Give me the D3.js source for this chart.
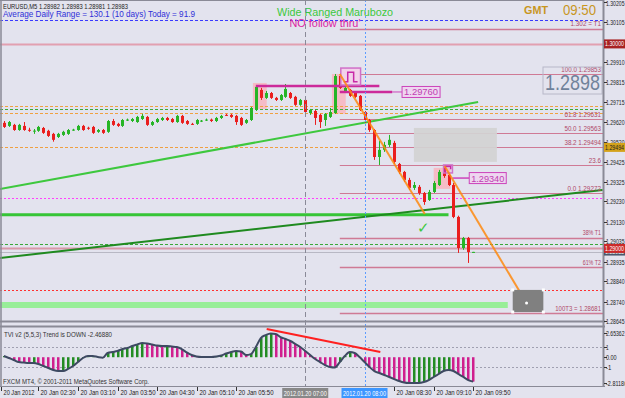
<!DOCTYPE html>
<html>
<head>
<meta charset="utf-8">
<script src="https://cdnjs.cloudflare.com/ajax/libs/d3/7.8.5/d3.min.js"></script>
<style>
body { margin: 0; background: #e3e3ee; }
svg { display: block; font-family: "Liberation Sans", Arial, sans-serif; }
</style>
</head>
<body>
<div id="chart"></div>
<script>
// EURUSD M5 bars from 01:55 to 09:50, [open, high, low, close]
const firstBar = "01:55";
const candles = [
  [1.29614,1.29623,1.29589,1.29594],[1.29599,1.29623,1.29594,1.29618],[1.29604,1.29609,1.29575,1.29579],
  [1.29579,1.29609,1.29575,1.29604],[1.29599,1.29618,1.29575,1.29579],[1.29580,1.29590,1.29570,1.29578],
  [1.29572,1.29584,1.29560,1.29576],[1.29575,1.29599,1.29570,1.29594],[1.29589,1.29594,1.29560,1.29565],
  [1.29575,1.29580,1.29545,1.29550],[1.29560,1.29565,1.29522,1.29531],[1.29545,1.29565,1.29540,1.29560],
  [1.29555,1.29575,1.29550,1.29570],[1.29560,1.29584,1.29555,1.29579],[1.29579,1.29585,1.29575,1.29581],
  [1.29579,1.29604,1.29575,1.29599],[1.29599,1.29604,1.29575,1.29579],[1.29590,1.29595,1.29580,1.29588],
  [1.29594,1.29599,1.29560,1.29565],[1.29570,1.29584,1.29565,1.29579],[1.29579,1.29584,1.29560,1.29565],
  [1.29570,1.29628,1.29565,1.29623],[1.29623,1.29633,1.29599,1.29604],[1.29609,1.29614,1.29594,1.29599],
  [1.29599,1.29633,1.29594,1.29628],[1.29628,1.29635,1.29623,1.29630],[1.29623,1.29638,1.29618,1.29633],
  [1.29618,1.29648,1.29614,1.29643],[1.29633,1.29658,1.29628,1.29648],[1.29643,1.29648,1.29599,1.29604],
  [1.29604,1.29623,1.29599,1.29618],[1.29618,1.29638,1.29614,1.29633],[1.29628,1.29643,1.29623,1.29638],
  [1.29638,1.29643,1.29623,1.29628],[1.29633,1.29638,1.29614,1.29618],[1.29618,1.29653,1.29614,1.29648],
  [1.29648,1.29653,1.29609,1.29614],[1.29623,1.29628,1.29604,1.29609],[1.29609,1.29614,1.29604,1.29607],
  [1.29609,1.29633,1.29604,1.29628],[1.29623,1.29628,1.29618,1.29625],[1.29628,1.29635,1.29623,1.29630],
  [1.29630,1.29635,1.29618,1.29623],[1.29623,1.29643,1.29618,1.29638],[1.29638,1.29653,1.29633,1.29648],
  [1.29653,1.29658,1.29648,1.29651],[1.29653,1.29658,1.29638,1.29643],[1.29648,1.29653,1.29604,1.29618],
  [1.29638,1.29643,1.29599,1.29604],[1.29614,1.29633,1.29609,1.29628],[1.29628,1.29692,1.29623,1.29687],
  [1.29677,1.29795,1.29672,1.29790],[1.29775,1.29785,1.29726,1.29736],[1.29736,1.29770,1.29731,1.29760],
  [1.29760,1.29765,1.29731,1.29736],[1.29736,1.29741,1.29721,1.29726],[1.29726,1.29755,1.29721,1.29750],
  [1.29741,1.29804,1.29736,1.29780],[1.29760,1.29765,1.29731,1.29736],[1.29741,1.29746,1.29697,1.29702],
  [1.29702,1.29731,1.29697,1.29726],[1.29726,1.29731,1.29662,1.29667],[1.29662,1.29682,1.29653,1.29677],
  [1.29672,1.29677,1.29604,1.29638],[1.29653,1.29658,1.29589,1.29618],[1.29628,1.29662,1.29599,1.29658],
  [1.29643,1.29687,1.29638,1.29667],[1.29662,1.29853,1.29658,1.29843],[1.29843,1.29858,1.29780,1.29785],
  [1.29765,1.29795,1.29760,1.29785],[1.29775,1.29780,1.29741,1.29746],[1.29760,1.29765,1.29736,1.29741],
  [1.29746,1.29750,1.29672,1.29677],[1.29667,1.29672,1.29614,1.29628],[1.29628,1.29633,1.29570,1.29579],
  [1.29579,1.29584,1.29433,1.29447],[1.29447,1.29526,1.29408,1.29482],[1.29482,1.29521,1.29472,1.29506],
  [1.29506,1.29555,1.29496,1.29531],[1.29516,1.29526,1.29413,1.29423],[1.29413,1.29418,1.29364,1.29374],
  [1.29374,1.29379,1.29325,1.29335],[1.29335,1.29345,1.29286,1.29296],[1.29296,1.29325,1.29286,1.29310],
  [1.29301,1.29310,1.29262,1.29271],[1.29271,1.29276,1.29213,1.29227],[1.29237,1.29286,1.29232,1.29276],
  [1.29276,1.29330,1.29271,1.29320],[1.29310,1.29384,1.29305,1.29374],[1.29384,1.29394,1.29345,1.29354],
  [1.29359,1.29364,1.29305,1.29310],[1.29310,1.29320,1.29148,1.29154],[1.29154,1.29160,1.28978,1.29002],
  [1.29002,1.29056,1.28993,1.29051],[1.29051,1.29056,1.28929,1.28982],[1.28982,1.28983,1.28981,1.28983]
];

// TVI v2 indicator, one value per bar
const tvi = [
  0.12,-0.08,-0.28,-0.49,-0.54,-0.59,-0.59,-0.69,-0.89,-1.09,-1.30,-1.40,-1.40,-1.19,-0.89,-0.49,
  -0.08,0.12,0.12,0.02,-0.05,0.43,0.53,0.63,0.83,0.93,1.13,1.29,1.44,1.39,1.29,1.18,
  1.13,1.13,1.08,1.03,0.83,0.48,0.22,0.07,0.02,0.02,0.02,0.07,0.17,0.37,0.53,0.63,
  0.58,0.22,0.32,1.03,1.94,2.24,2.40,2.35,2.04,1.84,1.64,1.34,1.03,0.63,0.22,-0.18,
  -0.49,-0.79,-0.99,-1.04,-0.49,0.12,0.53,0.43,0.02,-0.49,-0.99,-1.40,-1.60,-1.80,-2.00,-2.21,
  -2.41,-2.56,-2.61,-2.61,-2.61,-2.51,-2.31,-2.00,-1.70,-1.40,-1.30,-1.40,-1.70,-2.00,-2.31,-2.47
];

const priceTicks = [1.30205,1.30105,1.29910,1.29815,1.29715,1.29620,1.29520,1.29425,1.29325,
                    1.29230,1.29130,1.29035,1.28935,1.28840,1.28740,1.28645];
const timeTicks = ["01:51","02:30","03:10","03:50","04:30","05:10","05:50","08:30","09:10","09:50"];
const timeLabels = ["20 Jan 2012","20 Jan 02:30","20 Jan 03:10","20 Jan 03:50","20 Jan 04:30",
                    "20 Jan 05:10","20 Jan 05:50","20 Jan 08:30","20 Jan 09:10","20 Jan 09:50"];
const tviTicks = [2.65362, 1, 0, -1, -2.81186];
const tviTickLabels = ["2.65362","1","0.00","-1","-2.81186"];

const fibNames = ["100.0 1.29853","61.8 1.29631","50.0 1.29563","38.2 1.29494","23.6","0.0 1.29272"];
const fibPrices = [1.29853,1.29631,1.29563,1.29494,1.29409,1.29272];
const targetNames = ["1.302 = T1","38% T1","61% T2","100T3 = 1.28681"];
const targetPrices = [1.30073,1.29051,1.28909,1.28684];
const orangeDashLevels = [1.29696,1.29662,1.29496];
const greenDashLevels = [1.29682,1.29022];
const adrLevel = 1.30117;
const roundLevels = [1.30000, 1.29000];
const bid = 1.28983;
const magentaDotLevel = 1.29247;
const redDotLevel = 1.28797;
const supportLine = [["01:51",1.29164],["09:25",1.29164]];
const targetBand = [["01:51",1.28723],["10:25",1.28723]];
const lightTrend = [["01:51",1.29291],["09:55",1.29716]];
const darkTrend = [["01:51",1.28953],["12:01",1.29286]];
const projections = [[["07:35",1.29853],["09:01",1.29168]], [["09:21",1.29403],["10:44",1.28733]]];
const highLines = [[["06:10",1.29794],["08:15",1.29794]], [["07:35",1.29765],["08:28",1.29765]]];
const pinkZones = [["06:07","06:21",1.29809,1.29682],["07:27","07:41",1.29853,1.29658],["09:10","09:27",1.29394,1.29291]];
const greyZone = ["08:50","10:14",1.29589,1.29423];
const targetBox = ["10:30","11:01",1.28797,1.28689];
const tviTrend = [["06:21",2.85],["08:16",0.53]];

const W = 625, H = 398, plotRight = 603;
const parseT = s => new Date(Date.UTC(2012, 0, 20, +s.slice(0, 2), +s.slice(3)));
const barTime = i => new Date(parseT(firstBar).getTime() + i * 300000);

const x = d3.scaleUtc().domain([parseT("01:55"), parseT("09:50")]).range([3.9, 473.2]);
const y = d3.scaleLinear().domain([1.28645, 1.30205]).range([321, 2]);
const yi = d3.scaleLinear().domain([-2.81186, 2.65362]).range([385, 331]);

const svg = d3.select("#chart").append("svg").attr("width", W).attr("height", H);
svg.append("rect").attr("width", W).attr("height", H).attr("fill", "#e3e3ee");

const defs = svg.append("defs");
defs.append("clipPath").attr("id", "mainClip").append("rect")
    .attr("x", 0).attr("y", 0).attr("width", plotRight).attr("height", 321);
defs.append("clipPath").attr("id", "indClip").append("rect")
    .attr("x", 0).attr("y", 327).attr("width", plotRight).attr("height", 59);

const main = svg.append("g").attr("clip-path", "url(#mainClip)");

function text(g, tx, ty, s, size, fill, len, anchor) {
    const t = g.append("text").attr("x", tx).attr("y", ty).text(s)
        .attr("font-size", size).attr("fill", fill);
    if (len) t.attr("textLength", len).attr("lengthAdjust", "spacingAndGlyphs");
    if (anchor) t.attr("text-anchor", anchor);
    return t;
}
function hline(price, color, width, dash, x0, x1) {
    const l = main.append("line")
        .attr("x1", x0 == null ? 0 : x0).attr("x2", x1 == null ? plotRight : x1)
        .attr("y1", Math.round(y(price)) + 0.5).attr("y2", Math.round(y(price)) + 0.5)
        .attr("stroke", color).attr("stroke-width", width);
    if (dash) l.attr("stroke-dasharray", dash);
    return l;
}
function seg(g, pts, color, width, opacity) {
    return g.append("line")
        .attr("x1", x(parseT(pts[0][0]))).attr("y1", y(pts[0][1]))
        .attr("x2", x(parseT(pts[1][0]))).attr("y2", y(pts[1][1]))
        .attr("stroke", color).attr("stroke-width", width).attr("opacity", opacity || 1);
}

// zones
pinkZones.forEach(z => {
    main.append("rect").attr("x", x(parseT(z[0]))).attr("width", x(parseT(z[1])) - x(parseT(z[0])))
        .attr("y", y(z[2])).attr("height", y(z[3]) - y(z[2])).attr("fill", "#f6bcc6");
});

// horizontal levels
hline(adrLevel, "#3a3aff", 1, "3,2");
hline(roundLevels[0], "#e2a0b0", 2);
orangeDashLevels.forEach(p => hline(p, "#f0a040", 1, "3,2"));
greenDashLevels.forEach(p => hline(p, "#3aa83a", 1, "3,2"));
hline(magentaDotLevel, "#ff40ff", 1, "2,2");
hline(redDotLevel, "#ff3030", 1, "2,2");
hline(roundLevels[1], "#d898a8", 2);
hline(bid, "#b8b8c4", 1);

const fibStart = x(parseT("07:35"));
fibPrices.forEach(p => hline(p, "#cf7a95", 1, null, fibStart));
targetPrices.forEach(p => hline(p, "#cf7a95", 1.5, null, fibStart));

// grey zone
main.append("rect").attr("x", x(parseT(greyZone[0]))).attr("width", x(parseT(greyZone[1])) - x(parseT(greyZone[0])))
    .attr("y", y(greyZone[2])).attr("height", y(greyZone[3]) - y(greyZone[2]))
    .attr("fill", "#d2d2d2").attr("opacity", 0.92);

// thick green support and target band
seg(main, supportLine, "#36c536", 3);
seg(main, targetBand, "#98ee98", 6);
seg(main, lightTrend, "#3ec83e", 2);
seg(main, darkTrend, "#1f8a1f", 2);

// candles
const bars = main.append("g");
candles.forEach((c, i) => {
    const cx = Math.round(x(barTime(i))) + 0.5;
    const up = c[3] >= c[0];
    const col = up ? "#26b526" : "#ea1e1e";
    bars.append("line").attr("x1", cx).attr("x2", cx).attr("y1", y(c[1])).attr("y2", y(c[2]))
        .attr("stroke", col).attr("stroke-width", 1);
    const top = y(Math.max(c[0], c[3])), bot = y(Math.min(c[0], c[3]));
    bars.append("rect").attr("x", cx - 1.5).attr("width", 3)
        .attr("y", top).attr("height", Math.max(1, bot - top)).attr("fill", col);
});

// session high marks
highLines.forEach(h => seg(main, h, "#cc2a9a", 2.5));
const lblX = x(parseT("08:38"));
main.append("line").attr("x1", x(parseT("08:28"))).attr("x2", lblX)
    .attr("y1", y(1.29765)).attr("y2", y(1.29765)).attr("stroke", "#cc44bb").attr("stroke-width", 1);
main.append("rect").attr("x", lblX).attr("y", y(1.29765) - 5.5).attr("width", 38).attr("height", 11)
    .attr("fill", "#eed6f0").attr("stroke", "#cc44bb");
text(main, lblX + 19, y(1.29765) + 3.5, "1.29760", 9.5, "#c040b0", 34, "middle");

const l2x0 = x(parseT("09:29")), l2x1 = x(parseT("09:46"));
main.append("line").attr("x1", l2x0).attr("x2", l2x1)
    .attr("y1", y(1.29344)).attr("y2", y(1.29344)).attr("stroke", "#cc44bb").attr("stroke-width", 1.5);
main.append("rect").attr("x", l2x1).attr("y", y(1.29344) - 5.5).attr("width", 37).attr("height", 11)
    .attr("fill", "#eed6f0").attr("stroke", "#cc44bb");
text(main, l2x1 + 18.5, y(1.29344) + 3.5, "1.29340", 9.5, "#c040b0", 33, "middle");

// pulse boxes
function pulseBox(t0, t1, p0, p1, full) {
    const bx = x(parseT(t0)), bw = x(parseT(t1)) - bx, by = y(p0), bh = y(p1) - by;
    main.append("rect").attr("x", bx).attr("y", by).attr("width", bw).attr("height", bh)
        .attr("fill", full ? "#f2d2ea" : "none").attr("stroke", "#d070c8").attr("stroke-width", 1.5);
    const path = full
        ? [[0.15, 0.8], [0.35, 0.8], [0.35, 0.25], [0.65, 0.25], [0.65, 0.8], [0.85, 0.8]]
        : [[0.2, 0.9], [0.2, 0.2], [0.8, 0.2], [0.8, 0.55]];
    main.append("path").attr("d", d3.line()(path.map(p => [bx + p[0] * bw, by + p[1] * bh])))
        .attr("fill", "none").attr("stroke", "#c828a8").attr("stroke-width", 1.5);
}
pulseBox("07:36", "07:56", 1.29882, 1.29799, true);
pulseBox("09:20", "09:29", 1.29408, 1.29369, false);

// projections
projections.forEach(p => seg(main, p, "#ff8a10", 2, 0.85));

// target box
const tbx = x(parseT(targetBox[0])), tbw = x(parseT(targetBox[1])) - tbx;
main.append("rect").attr("x", tbx).attr("y", y(targetBox[2])).attr("width", tbw)
    .attr("height", y(targetBox[3]) - y(targetBox[2])).attr("fill", "#808080");
[[tbx, y(targetBox[2])], [tbx + tbw, y(targetBox[2])], [tbx, y(targetBox[3])], [tbx + tbw, y(targetBox[3])]]
    .forEach(c => main.append("rect").attr("x", c[0] - 1.5).attr("y", c[1] - 1.5)
        .attr("width", 3).attr("height", 3).attr("fill", "#fff"));
main.append("circle").attr("cx", x(parseT(projections[1][1][0]))).attr("cy", y(projections[1][1][1]))
    .attr("r", 1.5).attr("fill", "#fff");

// check mark
text(main, 417, 233, "\u2713", 15, "#3ec83e");

// fib and target labels
fibNames.forEach((n, i) => text(main, 601, y(fibPrices[i]) - 2, n, 6.5, "#b04868", n.length * 3.05, "end"));
targetNames.forEach((n, i) => text(main, 601, y(targetPrices[i]) - 2.5, n, 6.5, "#b04868", n.length * 3.05, "end"));

// current price box
main.append("rect").attr("x", 543).attr("y", 67).attr("width", 59).attr("height", 27)
    .attr("fill", "none").attr("stroke", "#b8b8c8");
text(main, 545, 90, "1.2898", 22, "#70829a", 55);

// headers
text(svg, 3, 9, "EURUSD,M5  1.28982 1.28983 1.28981 1.28983", 7, "#222", 125);
text(svg, 3, 17, "Average Daily Range = 130.1 (10 days)    Today = 91.9", 9, "#2f2fd8", 192);
text(svg, 335, 16, "Wide Ranged Marubozo", 11.5, "#3cc83c", 116, "middle");
text(svg, 325, 27, "NO follow thru'", 11.5, "#dd22a0", 71, "middle");
text(svg, 524, 14, "GMT", 10, "#c8961e", 24).attr("font-weight", "bold");
text(svg, 563, 15, "09:50", 14, "#c8961e", 33);

// vertical markers
[["07:00", "#8a8a98", "5,3"], ["08:00", "#5c9cff", "2,2"]].forEach(v => {
    svg.append("line").attr("x1", Math.round(x(parseT(v[0]))) + 0.5).attr("x2", Math.round(x(parseT(v[0]))) + 0.5)
        .attr("y1", 0).attr("y2", 386).attr("stroke", v[1]).attr("stroke-dasharray", v[2]);
});

// frames
svg.append("line").attr("x1", 0).attr("x2", plotRight).attr("y1", 0.5).attr("y2", 0.5).attr("stroke", "#8a8a96");
svg.append("line").attr("x1", 1).attr("x2", 1).attr("y1", 0).attr("y2", 386).attr("stroke", "#8a8a96").attr("stroke-width", 1.5);
svg.append("line").attr("x1", plotRight + 0.5).attr("x2", plotRight + 0.5).attr("y1", 0).attr("y2", 386)
    .attr("stroke", "#8a8a96").attr("stroke-width", 2);
[321.5, 326.5].forEach(yy => svg.append("line").attr("x1", 0).attr("x2", plotRight + 2)
    .attr("y1", yy).attr("y2", yy).attr("stroke", "#8a8a96").attr("stroke-width", 2));
svg.append("line").attr("x1", 0).attr("x2", plotRight + 2).attr("y1", 386.5).attr("y2", 386.5)
    .attr("stroke", "#8a8a96");

// price axis
priceTicks.forEach(p => {
    const py = Math.round(y(p)) + 0.5;
    svg.append("line").attr("x1", plotRight + 1).attr("x2", plotRight + 4).attr("y1", py).attr("y2", py).attr("stroke", "#333");
    text(svg, 606, Math.max(6, py + 2.5), p.toFixed(5), 7, "#222", 18.5);
});
function axisBox(price, fill, color, label) {
    svg.append("rect").attr("x", plotRight + 1).attr("y", y(price) - 4.5).attr("width", 22).attr("height", 9).attr("fill", fill);
    text(svg, 605, y(price) + 2.5, label, 7, color, 19);
}
axisBox(bid + 0.00004, "#4c586c", "#fff", bid.toFixed(5));
axisBox(roundLevels[0], "#a82222", "#fff", "1.30000");
axisBox(roundLevels[1], "#cc2a2a", "#fff", "1.29000");
axisBox(fibPrices[3], "#d4a21a", "#222", "1.29494");

// indicator pane
const ind = svg.append("g").attr("clip-path", "url(#indClip)");
[1, -1].forEach(v => ind.append("line").attr("x1", 0).attr("x2", plotRight)
    .attr("y1", Math.round(yi(v)) + 0.5).attr("y2", Math.round(yi(v)) + 0.5)
    .attr("stroke", "#a0a0b0").attr("stroke-dasharray", "2,2"));
tvi.forEach((v, i) => {
    const up = i === 0 ? true : v >= tvi[i - 1];
    const bx = Math.round(x(barTime(i)));
    ind.append("rect").attr("x", bx - 1).attr("width", 2.5)
        .attr("y", Math.min(yi(0), yi(v))).attr("height", Math.abs(yi(v) - yi(0)))
        .attr("fill", up ? "#238c23" : "#d01f8e");
});
ind.append("path").datum(tvi)
    .attr("d", d3.line().x((d, i) => x(barTime(i))).y(d => yi(d)).curve(d3.curveMonotoneX))
    .attr("fill", "none").attr("stroke", "#3e4a62").attr("stroke-width", 2);
ind.append("line").attr("x1", x(parseT(tviTrend[0][0]))).attr("y1", yi(tviTrend[0][1]))
    .attr("x2", x(parseT(tviTrend[1][0]))).attr("y2", yi(tviTrend[1][1]))
    .attr("stroke", "#ff2020").attr("stroke-width", 2);
text(svg, 4, 337, "TVI v2 (5,5,3) Trend is DOWN -2.46880", 7, "#333", 108);
text(svg, 3, 384, "FXCM MT4, \u00a9 2001-2011 MetaQuotes Software Corp.", 7, "#333", 146);

tviTicks.forEach((v, i) => {
    const ty = Math.max(333, Math.min(383, yi(v)));
    svg.append("line").attr("x1", plotRight + 1).attr("x2", plotRight + 4)
        .attr("y1", Math.round(ty) + 0.5).attr("y2", Math.round(ty) + 0.5).attr("stroke", "#333");
    const lbl = tviTickLabels[i];
    text(svg, 606, ty + 2.5, lbl, 7, "#222", lbl.length * 2.65);
});

// time axis
timeTicks.forEach((t, i) => {
    const tx = Math.max(1.5, Math.round(x(parseT(t))) + 0.5);
    svg.append("line").attr("x1", tx).attr("x2", tx).attr("y1", 387).attr("y2", 391).attr("stroke", "#333");
    text(svg, tx + 2, 395, timeLabels[i], 7, "#222", i === 0 ? 31 : 35);
});
[["07:00", "#888888", "2012.01.20 07:00"], ["08:00", "#3c96ff", "2012.01.20 08:00"]].forEach(v => {
    const tx = x(parseT(v[0]));
    svg.append("rect").attr("x", tx - 23).attr("y", 388).attr("width", 46).attr("height", 10).attr("fill", v[1]);
    text(svg, tx, 396, v[2], 7, "#fff", 43, "middle");
});
</script>
</body>
</html>
